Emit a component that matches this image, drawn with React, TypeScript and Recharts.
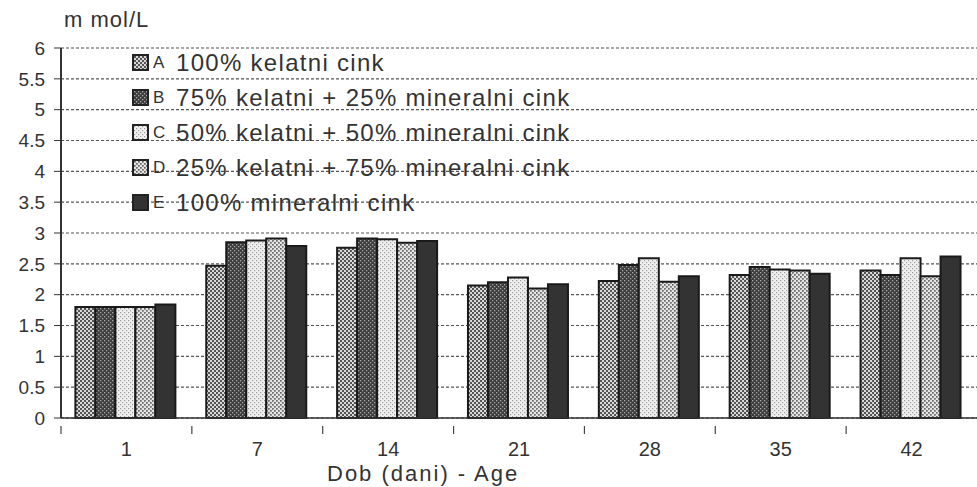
import { BarChart, Bar, XAxis, YAxis, CartesianGrid } from 'recharts';

// Dob (dani) - Age
const days = ['1', '7', '14', '21', '28', '35', '42'];

// m mol/L
const seriesA = [1.8, 2.47, 2.76, 2.15, 2.22, 2.32, 2.39];
const seriesB = [1.8, 2.85, 2.91, 2.2, 2.48, 2.45, 2.32];
const seriesC = [1.8, 2.88, 2.9, 2.28, 2.59, 2.41, 2.59];
const seriesD = [1.8, 2.91, 2.84, 2.1, 2.21, 2.39, 2.3];
const seriesE = [1.84, 2.79, 2.87, 2.17, 2.3, 2.34, 2.62];

const yTicks = [0, 0.5, 1, 1.5, 2, 2.5, 3, 3.5, 4, 4.5, 5, 5.5, 6];

const SERIES = [
  { key: 'A', label: '100% kelatni cink', fill: 'url(#pA) #999' },
  { key: 'B', label: '75% kelatni + 25% mineralni cink', fill: 'url(#pB) #555' },
  { key: 'C', label: '50% kelatni + 50% mineralni cink', fill: 'url(#pC) #e5e5e5' },
  { key: 'D', label: '25% kelatni + 75% mineralni cink', fill: 'url(#pD) #bbb' },
  { key: 'E', label: '100% mineralni cink', fill: '#333' },
];

const data = days.map((d, i) => ({
  day: d,
  A: seriesA[i],
  B: seriesB[i],
  C: seriesC[i],
  D: seriesD[i],
  E: seriesE[i],
}));

const W = 977;
const H = 487;
const LEFT = 61;
const TOP = 48;
const BOTTOM_AXIS = 418;
const BAND = (W - LEFT) / days.length;
const FONT = '"Liberation Sans", Arial, sans-serif';

const DayTick = (props: any) => {
  const { x, y, payload } = props;
  const bx = x - BAND / 2;
  return (
    <g>
      <line x1={bx} y1={y} x2={bx} y2={y + 8} stroke="#444" strokeWidth={1.2} />
      <text x={x} y={y + 30} textAnchor="middle" fontSize={20} fill="#333" fontFamily={FONT}>
        {payload.value}
      </text>
    </g>
  );
};

const LegendBox = () => (
  <div style={{ position: 'absolute', left: 132, top: 45, fontFamily: FONT, color: '#333' }}>
    {SERIES.map((s) => (
      <div key={s.key} style={{ display: 'flex', alignItems: 'center', height: 35 }}>
        <svg width={17} height={17} style={{ display: 'block' }}>
          <rect x={1} y={1} width={15} height={15} fill={s.fill} stroke="#222" strokeWidth={2} />
        </svg>
        <span style={{ fontSize: 17, marginLeft: 4, width: 23 }}>{s.key}</span>
        <span style={{ fontSize: 24, letterSpacing: 1.3, lineHeight: '35px' }}>{s.label}</span>
      </div>
    ))}
  </div>
);

const App = () => {
  return (
    <div style={{ position: 'absolute', left: 0, top: 0, width: W, height: H, background: '#fff', overflow: 'hidden' }}>
      <BarChart
        width={W}
        height={H}
        data={data}
        margin={{ top: TOP, right: 0, left: 0, bottom: 0 }}
        barGap={0}
        barCategoryGap="11%"
      >
        <defs>
          <pattern id="pA" width={4} height={4} patternUnits="userSpaceOnUse">
            <rect width={4} height={4} fill="#d8d8d8" />
            <rect x={0} y={0} width={2} height={2} fill="#555" />
            <rect x={2} y={2} width={2} height={2} fill="#555" />
          </pattern>
          <pattern id="pB" width={4} height={4} patternUnits="userSpaceOnUse">
            <rect width={4} height={4} fill="#3c3c3c" />
            <rect x={0} y={0} width={1.3} height={1.3} fill="#aaa" />
            <rect x={2} y={2} width={1.3} height={1.3} fill="#aaa" />
          </pattern>
          <pattern id="pC" width={4} height={4} patternUnits="userSpaceOnUse">
            <rect width={4} height={4} fill="#f0f0f0" />
            <rect x={0} y={0} width={1.2} height={1.2} fill="#999" />
            <rect x={2} y={2} width={1.2} height={1.2} fill="#999" />
          </pattern>
          <pattern id="pD" width={4} height={4} patternUnits="userSpaceOnUse">
            <rect width={4} height={4} fill="#e4e4e4" />
            <rect x={0} y={0} width={1.7} height={1.7} fill="#666" />
            <rect x={2} y={2} width={1.7} height={1.7} fill="#666" />
          </pattern>
        </defs>
        <CartesianGrid vertical={false} stroke="#555" strokeWidth={1.2} strokeDasharray="3 2" />
        <XAxis
          dataKey="day"
          height={H - BOTTOM_AXIS}
          tick={<DayTick />}
          tickLine={false}
          axisLine={{ stroke: '#333', strokeWidth: 1.5 }}
          interval={0}
        />
        <YAxis
          width={LEFT}
          domain={[0, 6]}
          ticks={yTicks}
          interval={0}
          tickSize={7}
          tickMargin={9}
          tickLine={{ stroke: '#333' }}
          axisLine={{ stroke: '#333', strokeWidth: 2 }}
          tick={{ fontSize: 19, fill: '#333', fontFamily: FONT }}
        />
        {SERIES.map((s) => (
          <Bar
            key={s.key}
            dataKey={s.key}
            fill={s.fill}
            stroke="#1a1a1a"
            strokeWidth={2}
            isAnimationActive={false}
          />
        ))}
      </BarChart>
      <LegendBox />
      <div style={{ position: 'absolute', left: 64, top: 7, fontSize: 22, letterSpacing: 1, fontFamily: FONT, color: '#333' }}>
        m mol/L
      </div>
      <div style={{ position: 'absolute', left: 327, top: 461, fontSize: 22, letterSpacing: 2, fontFamily: FONT, color: '#333' }}>
        Dob (dani) - Age
      </div>
    </div>
  );
};

export default App;
